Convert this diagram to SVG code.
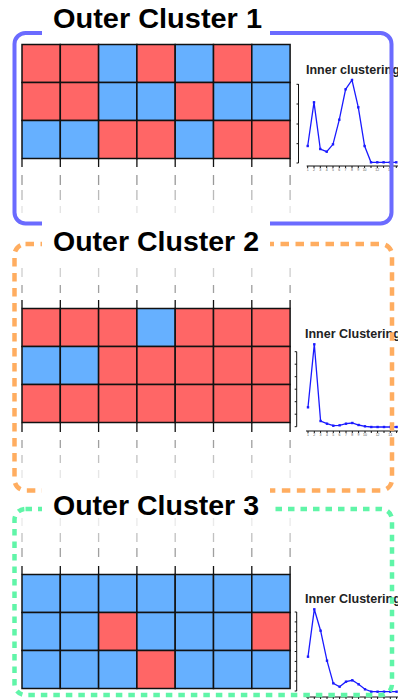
<svg xmlns="http://www.w3.org/2000/svg" width="398" height="700" viewBox="0 0 398 700">
<style>
.r{fill:#ff6666;stroke:#111;stroke-width:1.5}
.b{fill:#66b0ff;stroke:#111;stroke-width:1.5}
.tk{stroke:#111;stroke-width:1.3}
.gd{stroke:#777;stroke-width:1.3}
.ttl{font-family:"Liberation Sans",Arial,sans-serif;font-weight:bold;font-size:28px;fill:#000}
.ct{font-family:"Liberation Sans",Arial,sans-serif;font-weight:bold;font-size:12.5px;fill:#222}
.ax{stroke:#111;stroke-width:1;fill:none}
.ln{stroke:#1a1aff;stroke-width:1.3;fill:none}
.mk{fill:#1a1aff}
.xl{font-family:"Liberation Sans",Arial,sans-serif;font-size:3.5px;fill:#555;text-anchor:middle}
.bg{fill:#fff}
</style>
<defs>
<rect id="m" x="-1.2" y="-1.2" width="2.4" height="2.4" class="mk"/>
</defs>

<!-- Grid 1 -->
<g id="grid1">
<rect class="r" x="22" y="44.5" width="38.3" height="38"/><rect class="r" x="60.3" y="44.5" width="38.3" height="38"/><rect class="b" x="98.6" y="44.5" width="38.3" height="38"/><rect class="r" x="136.9" y="44.5" width="38.3" height="38"/><rect class="b" x="175.2" y="44.5" width="38.3" height="38"/><rect class="r" x="213.5" y="44.5" width="38.3" height="38"/><rect class="b" x="251.8" y="44.5" width="38.3" height="38"/>
<rect class="r" x="22" y="82.5" width="38.3" height="38"/><rect class="r" x="60.3" y="82.5" width="38.3" height="38"/><rect class="b" x="98.6" y="82.5" width="38.3" height="38"/><rect class="b" x="136.9" y="82.5" width="38.3" height="38"/><rect class="r" x="175.2" y="82.5" width="38.3" height="38"/><rect class="b" x="213.5" y="82.5" width="38.3" height="38"/><rect class="b" x="251.8" y="82.5" width="38.3" height="38"/>
<rect class="b" x="22" y="120.5" width="38.3" height="38"/><rect class="b" x="60.3" y="120.5" width="38.3" height="38"/><rect class="r" x="98.6" y="120.5" width="38.3" height="38"/><rect class="r" x="136.9" y="120.5" width="38.3" height="38"/><rect class="b" x="175.2" y="120.5" width="38.3" height="38"/><rect class="r" x="213.5" y="120.5" width="38.3" height="38"/><rect class="r" x="251.8" y="120.5" width="38.3" height="38"/>
</g>

<!-- Grid 2 -->
<g id="grid2">
<rect class="r" x="22" y="308.5" width="38.3" height="38"/><rect class="r" x="60.3" y="308.5" width="38.3" height="38"/><rect class="r" x="98.6" y="308.5" width="38.3" height="38"/><rect class="b" x="136.9" y="308.5" width="38.3" height="38"/><rect class="r" x="175.2" y="308.5" width="38.3" height="38"/><rect class="r" x="213.5" y="308.5" width="38.3" height="38"/><rect class="r" x="251.8" y="308.5" width="38.3" height="38"/>
<rect class="b" x="22" y="346.5" width="38.3" height="38"/><rect class="b" x="60.3" y="346.5" width="38.3" height="38"/><rect class="r" x="98.6" y="346.5" width="38.3" height="38"/><rect class="r" x="136.9" y="346.5" width="38.3" height="38"/><rect class="r" x="175.2" y="346.5" width="38.3" height="38"/><rect class="r" x="213.5" y="346.5" width="38.3" height="38"/><rect class="r" x="251.8" y="346.5" width="38.3" height="38"/>
<rect class="r" x="22" y="384.5" width="38.3" height="38"/><rect class="r" x="60.3" y="384.5" width="38.3" height="38"/><rect class="r" x="98.6" y="384.5" width="38.3" height="38"/><rect class="r" x="136.9" y="384.5" width="38.3" height="38"/><rect class="r" x="175.2" y="384.5" width="38.3" height="38"/><rect class="r" x="213.5" y="384.5" width="38.3" height="38"/><rect class="r" x="251.8" y="384.5" width="38.3" height="38"/>
</g>

<!-- Grid 3 -->
<g id="grid3">
<rect class="b" x="22" y="574.5" width="38.3" height="38"/><rect class="b" x="60.3" y="574.5" width="38.3" height="38"/><rect class="b" x="98.6" y="574.5" width="38.3" height="38"/><rect class="b" x="136.9" y="574.5" width="38.3" height="38"/><rect class="b" x="175.2" y="574.5" width="38.3" height="38"/><rect class="b" x="213.5" y="574.5" width="38.3" height="38"/><rect class="b" x="251.8" y="574.5" width="38.3" height="38"/>
<rect class="b" x="22" y="612.5" width="38.3" height="38"/><rect class="b" x="60.3" y="612.5" width="38.3" height="38"/><rect class="r" x="98.6" y="612.5" width="38.3" height="38"/><rect class="b" x="136.9" y="612.5" width="38.3" height="38"/><rect class="b" x="175.2" y="612.5" width="38.3" height="38"/><rect class="b" x="213.5" y="612.5" width="38.3" height="38"/><rect class="r" x="251.8" y="612.5" width="38.3" height="38"/>
<rect class="b" x="22" y="650.5" width="38.3" height="38"/><rect class="b" x="60.3" y="650.5" width="38.3" height="38"/><rect class="b" x="98.6" y="650.5" width="38.3" height="38"/><rect class="r" x="136.9" y="650.5" width="38.3" height="38"/><rect class="b" x="175.2" y="650.5" width="38.3" height="38"/><rect class="b" x="213.5" y="650.5" width="38.3" height="38"/><rect class="b" x="251.8" y="650.5" width="38.3" height="38"/>
</g>

<!-- column guide ticks -->
<g id="ticks">
<path class="tk" d="M22 158.5V167M60.3 158.5V167M98.6 158.5V167M136.9 158.5V167M175.2 158.5V167M213.5 158.5V167M251.8 158.5V167M290.1 158.5V167"/>
<path class="gd" opacity="0.75" d="M22 175V185M60.3 175V185M98.6 175V185M136.9 175V185M175.2 175V185M213.5 175V185M251.8 175V185M290.1 175V185"/>
<path class="gd" opacity="0.5" d="M22 190V200M60.3 190V200M98.6 190V200M136.9 190V200M175.2 190V200M213.5 190V200M251.8 190V200M290.1 190V200"/>
<path class="gd" opacity="0.2" d="M22 206V213M60.3 206V213M98.6 206V213M136.9 206V213M175.2 206V213M213.5 206V213M251.8 206V213M290.1 206V213"/>

<path class="tk" d="M22 300V308.5M60.3 300V308.5M98.6 300V308.5M136.9 300V308.5M175.2 300V308.5M213.5 300V308.5M251.8 300V308.5M290.1 300V308.5"/>
<path class="gd" opacity="0.7" d="M22 285V293M60.3 285V293M98.6 285V293M136.9 285V293M175.2 285V293M213.5 285V293M251.8 285V293M290.1 285V293"/>
<path class="gd" opacity="0.35" d="M22 268V277M60.3 268V277M98.6 268V277M136.9 268V277M175.2 268V277M213.5 268V277M251.8 268V277M290.1 268V277"/>

<path class="tk" d="M22 422.5V432M60.3 422.5V432M98.6 422.5V432M136.9 422.5V432M175.2 422.5V432M213.5 422.5V432M251.8 422.5V432M290.1 422.5V432"/>
<path class="gd" opacity="0.7" d="M22 440V448M60.3 440V448M98.6 440V448M136.9 440V448M175.2 440V448M213.5 440V448M251.8 440V448M290.1 440V448"/>
<path class="gd" opacity="0.45" d="M22 455V463M60.3 455V463M98.6 455V463M136.9 455V463M175.2 455V463M213.5 455V463M251.8 455V463M290.1 455V463"/>
<path class="gd" opacity="0.18" d="M22 470V478M60.3 470V478M98.6 470V478M136.9 470V478M175.2 470V478M213.5 470V478M251.8 470V478M290.1 470V478"/>

<path class="tk" d="M22 566V574.5M60.3 566V574.5M98.6 566V574.5M136.9 566V574.5M175.2 566V574.5M213.5 566V574.5M251.8 566V574.5M290.1 566V574.5"/>
<path class="gd" opacity="0.7" d="M22 548V557M60.3 548V557M98.6 548V557M136.9 548V557M175.2 548V557M213.5 548V557M251.8 548V557M290.1 548V557"/>
<path class="gd" opacity="0.45" d="M22 533V542M60.3 533V542M98.6 533V542M136.9 533V542M175.2 533V542M213.5 533V542M251.8 533V542M290.1 533V542"/>
<path class="gd" opacity="0.15" d="M22 518V526M60.3 518V526M98.6 518V526M136.9 518V526M175.2 518V526M213.5 518V526M251.8 518V526M290.1 518V526"/>
</g>

<!-- Chart 1 -->
<g id="chart1">
<text class="ct" x="306" y="74.3">Inner clustering</text>
<path class="ax" d="M298.5 84V163M296.5 84.3H298.5M296.5 104H298.5M296.5 124H298.5M296.5 143.7H298.5M296.5 163H298.5"/>
<path class="ax" d="M306.7 166H398M307.7 166V168M314 166V168M320.3 166V168M326.7 166V168M333 166V168M339.3 166V168M345.6 166V168M352 166V168M358.3 166V168M364.6 166V168M371 166V168M377.3 166V168M383.6 166V168M390 166V168M396.3 166V168"/>
<g class="xl"><text x="307.7" y="171">1</text><text x="314" y="171">2</text><text x="320.3" y="171">3</text><text x="326.7" y="171">4</text><text x="333" y="171">5</text><text x="339.3" y="171">6</text><text x="345.6" y="171">7</text><text x="352" y="171">8</text><text x="358.3" y="171">9</text><text x="364.6" y="171">10</text><text x="377.3" y="171">12</text><text x="390" y="171">14</text></g>
<polyline class="ln" points="307.7,146 314,102.3 320.3,149 326.7,151.7 333,144.3 339.3,119.7 345.6,89.3 352,80 358.3,107.3 364.6,146 371,162.3 377.3,162.3 383.6,162.3 390,162.3 396.3,162.3"/>
<use href="#m" x="307.7" y="146"/><use href="#m" x="314" y="102.3"/><use href="#m" x="320.3" y="149"/><use href="#m" x="326.7" y="151.7"/><use href="#m" x="333" y="144.3"/><use href="#m" x="339.3" y="119.7"/><use href="#m" x="345.6" y="89.3"/><use href="#m" x="352" y="80"/><use href="#m" x="358.3" y="107.3"/><use href="#m" x="364.6" y="146"/><use href="#m" x="371" y="162.3"/><use href="#m" x="377.3" y="162.3"/><use href="#m" x="383.6" y="162.3"/><use href="#m" x="390" y="162.3"/><use href="#m" x="396.3" y="162.3"/>
</g>

<!-- Chart 2 -->
<g id="chart2">
<text class="ct" x="305" y="338.3">Inner Clustering</text>
<path class="ax" d="M296.7 351.7V426.7M294.7 351.7H296.7M294.7 364.2H296.7M294.7 376.7H296.7M294.7 389.2H296.7M294.7 401.7H296.7M294.7 414.2H296.7M294.7 426.7H296.7"/>
<path class="ax" d="M306 431H398M308 431V433M314.3 431V433M320.6 431V433M327 431V433M333.3 431V433M339.6 431V433M346 431V433M352.3 431V433M358.6 431V433M365 431V433M371.3 431V433M377.6 431V433M384 431V433M390.3 431V433M396.6 431V433"/>
<g class="xl"><text x="308" y="436">1</text><text x="314.3" y="436">2</text><text x="320.6" y="436">3</text><text x="327" y="436">4</text><text x="333.3" y="436">5</text><text x="339.6" y="436">6</text><text x="346" y="436">7</text><text x="352.3" y="436">8</text><text x="358.6" y="436">9</text><text x="365" y="436">10</text><text x="377.6" y="436">12</text><text x="390.3" y="436">14</text></g>
<polyline class="ln" points="308,407.3 314.3,344.3 320.6,421 327,423.7 333.3,425.7 339.6,425.3 346,423.7 352.3,423 358.6,425 365,426.3 371.3,427 377.6,427 384,427 390.3,427 396.6,427"/>
<use href="#m" x="308" y="407.3"/><use href="#m" x="314.3" y="344.3"/><use href="#m" x="320.6" y="421"/><use href="#m" x="327" y="423.7"/><use href="#m" x="333.3" y="425.7"/><use href="#m" x="339.6" y="425.3"/><use href="#m" x="346" y="423.7"/><use href="#m" x="352.3" y="423"/><use href="#m" x="358.6" y="425"/><use href="#m" x="365" y="426.3"/><use href="#m" x="371.3" y="427"/><use href="#m" x="377.6" y="427"/><use href="#m" x="384" y="427"/><use href="#m" x="390.3" y="427"/><use href="#m" x="396.6" y="427"/>
</g>

<!-- Chart 3 -->
<g id="chart3">
<text class="ct" x="305" y="603.3">Inner Clustering</text>
<path class="ax" d="M296.7 612V691M294.7 612H296.7M294.7 621.9H296.7M294.7 631.8H296.7M294.7 641.6H296.7M294.7 651.5H296.7M294.7 661.4H296.7M294.7 671.3H296.7M294.7 681.1H296.7M294.7 691H296.7"/>
<path class="ax" d="M306 697H398M308 697V699M314.3 697V699M320.6 697V699M327 697V699M333.3 697V699M339.6 697V699M346 697V699M352.3 697V699M358.6 697V699M365 697V699M371.3 697V699M377.6 697V699M384 697V699M390.3 697V699M396.6 697V699"/>
<polyline class="ln" points="308,656.7 314.3,609.3 320.6,630.7 327,660.7 333.3,683.3 339.6,686.7 346,681.7 352.3,680.3 358.6,684.3 365,689.3 371.3,691.7 377.6,691.7 384,691.7 390.3,691.7 396.6,691.7"/>
<use href="#m" x="308" y="656.7"/><use href="#m" x="314.3" y="609.3"/><use href="#m" x="320.6" y="630.7"/><use href="#m" x="327" y="660.7"/><use href="#m" x="333.3" y="683.3"/><use href="#m" x="339.6" y="686.7"/><use href="#m" x="346" y="681.7"/><use href="#m" x="352.3" y="680.3"/><use href="#m" x="358.6" y="684.3"/><use href="#m" x="365" y="689.3"/><use href="#m" x="371.3" y="691.7"/><use href="#m" x="377.6" y="691.7"/><use href="#m" x="384" y="691.7"/><use href="#m" x="390.3" y="691.7"/><use href="#m" x="396.6" y="691.7"/>
</g>

<!-- Outer cluster boxes -->
<g id="cluster1"><rect x="14.5" y="33" width="377" height="190.5" rx="11" fill="none" stroke="#6b6bff" stroke-width="4"/></g>
<g id="cluster2"><rect x="14.5" y="244" width="377.5" height="246.5" rx="11" fill="none" stroke="#ffad60" stroke-width="4.5" stroke-dasharray="8.5 6.5"/></g>
<g id="cluster3"><rect x="14.5" y="509" width="377.5" height="186" rx="11" fill="none" stroke="#60f5a8" stroke-width="4.5" stroke-dasharray="6.5 6"/></g>

<!-- Titles -->
<g id="title1"><rect class="bg" x="42" y="20" width="228" height="20"/><text class="ttl" x="53" y="28" textLength="209" lengthAdjust="spacingAndGlyphs">Outer Cluster 1</text></g>
<g id="title2"><rect class="bg" x="42" y="217" width="228" height="32"/><text class="ttl" x="53" y="251" textLength="206" lengthAdjust="spacingAndGlyphs">Outer Cluster 2</text></g>
<g id="title3"><rect class="bg" x="42" y="484" width="228" height="30"/><text class="ttl" x="53" y="515" textLength="206" lengthAdjust="spacingAndGlyphs">Outer Cluster 3</text></g>
</svg>
